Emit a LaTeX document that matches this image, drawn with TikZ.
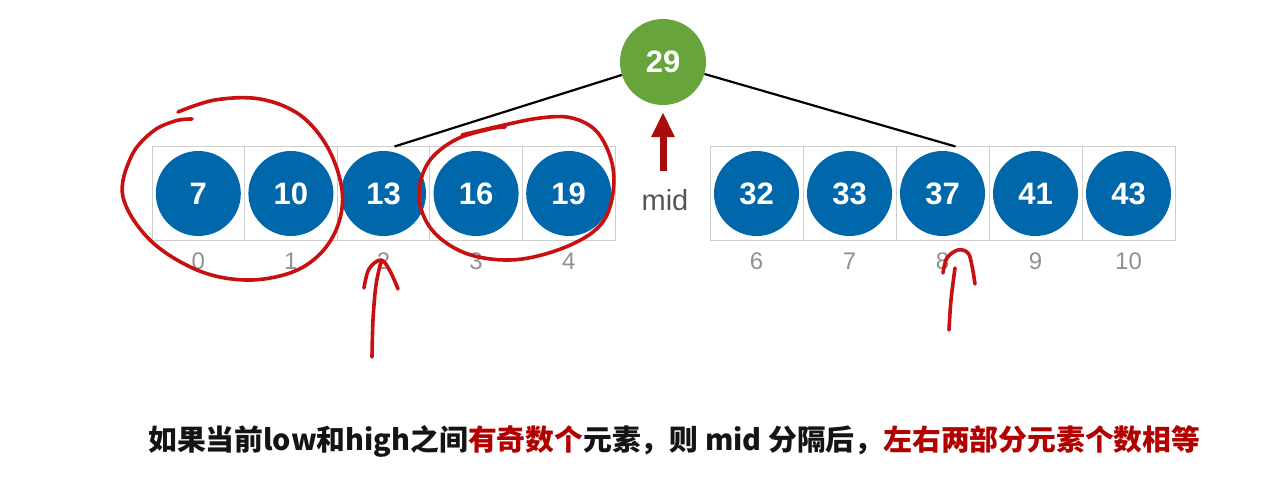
\documentclass[tikz,border=0pt]{standalone}
\usepackage{fontspec}
\setmainfont{Liberation Sans}
\newfontfamily\cjk{Noto Sans CJK SC}
\usetikzlibrary{arrows.meta}
\definecolor{nodeblue}{RGB}{0,103,171}
\definecolor{midgreen}{RGB}{104,164,60}
\definecolor{cellgray}{RGB}{205,205,205}
\definecolor{idxgray}{RGB}{145,145,145}
\definecolor{inkred}{RGB}{200,16,16}
\definecolor{textred}{RGB}{178,0,0}
\definecolor{arrowred}{RGB}{168,12,12}
\definecolor{midgray}{RGB}{85,85,85}
\tikzset{
  cellbox/.style={draw=cellgray, line width=1pt, minimum width=92.6pt, minimum height=93pt, inner sep=0pt},
  rcellbox/.style={cellbox, minimum width=93pt},
  numball/.style={circle, fill=nodeblue, minimum size=85pt, inner sep=0pt, text=white, font=\fontsize{31}{31}\selectfont\bfseries},
  midball/.style={numball, fill=midgreen, minimum size=86pt},
  idx/.style={text=idxgray, font=\fontsize{24}{24}\selectfont, inner sep=0pt},
  ink/.style={draw=inkred, line width=3.6pt, line cap=round, line join=round},
  link/.style={draw=black, line width=2.2pt}
}
\begin{document}
\begin{tikzpicture}[x=1pt,y=-1pt]
\useasboundingbox (0,0) rectangle (1266,481);
% left array
\foreach \i/\x/\v in {0/198.3/7,1/290.9/10,2/383.5/13,3/476.1/16,4/568.7/19}{
  \node[cellbox] (c\i) at (\x,193.5) {};
  \node[numball] (b\i) at (\x,193.5) {\v};
  \node[idx] (i\i) at (\x,261) {\i};
}
% right array
\foreach \i/\x/\v in {6/756.5/32,7/849.5/33,8/942.5/37,9/1035.5/41,10/1128.5/43}{
  \node[rcellbox] (c\i) at (\x,193.5) {};
  \node[numball] (b\i) at (\x,193.5) {\v};
  \node[idx] (i\i) at (\x,261) {\i};
}
% mid
\node[midball] (mid) at (663,62) {29};
\node[text=midgray, font=\fontsize{29}{29}\selectfont, inner sep=0pt] (midlabel) at (665,200) {mid};
\draw[link] (mid) -- ([xshift=11pt]c2.north);
\draw[link] (mid) -- ([xshift=13pt]c8.north);
\coordinate (midtail) at (663,171);
\draw[arrowred, line width=7pt, -{Triangle[length=25pt,width=22pt]}] (midtail) -- ([yshift=-7pt]mid.south);
% hand-drawn annotations
\draw[ink] plot[smooth, tension=0.6] coordinates {(178,112) (215,100) (260,99) (300,115) (328,148) (342,190) (338,225) (320,254) (290,273) (245,280) (197,270) (150,240) (123,197) (131,157) (152,132) (175,121) (192,119)};
\draw[ink] plot[smooth, tension=0.6] coordinates {(462,135) (500,126) (540,118) (572,118) (598,133) (613,168) (610,207) (593,232) (555,251) (510,260) (465,253) (432,230) (419,197) (428,163) (455,140) (490,129) (505,127)};
\draw[ink] plot[smooth, tension=0.6] coordinates {(372,357) (373,320) (376,285) (381,262)};
\draw[ink] plot[smooth, tension=0.6] coordinates {(364,288) (369,269) (381,260) (390,271) (398,289)};
\draw[ink] plot[smooth, tension=0.6] coordinates {(949,330) (951,300) (955,268)};
\draw[ink] plot[smooth, tension=0.6] coordinates {(943,273) (947,258) (958,250) (968,253) (972,266) (975,284)};
% caption
\node[anchor=west, inner sep=0pt, font=\cjk\bfseries\fontsize{28.8}{29}\selectfont, text={rgb,255:red,20;green,20;blue,20}] (caption) at (148,441)
  {如果当前low和high之间\textcolor{textred}{有奇数个}元素，则 mid 分隔后，\textcolor{textred}{左右两部分元素个数相等}};
\end{tikzpicture}
\end{document}
